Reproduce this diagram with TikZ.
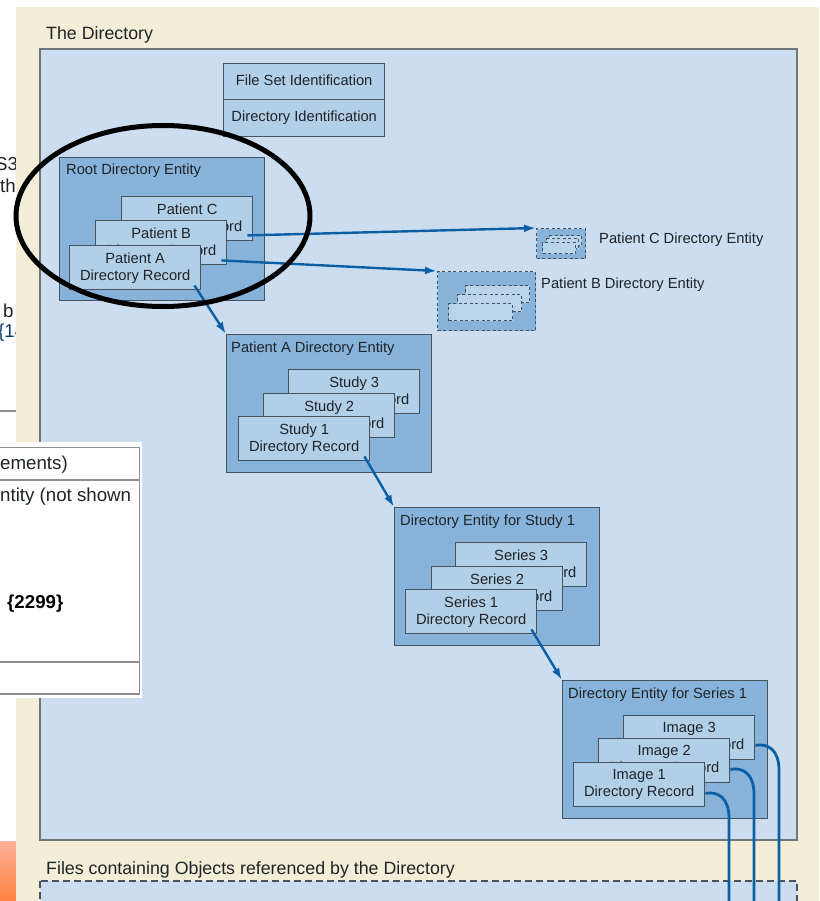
\documentclass[tikz,border=0pt]{standalone}
\usepackage{fontspec}
\setmainfont{Liberation Sans}
\usetikzlibrary{arrows.meta,calc,shapes.geometric}
\definecolor{beige}{HTML}{F4EDD7}
\definecolor{pale}{HTML}{CCDDF0}
\definecolor{mid}{HTML}{87B2D9}
\definecolor{recfill}{HTML}{B2CFE8}
\definecolor{ghostfill}{HTML}{BAD4EC}
\definecolor{edge}{HTML}{46535F}
\definecolor{outeredge}{HTML}{70777A}
\definecolor{flow}{HTML}{0B5FA5}
\definecolor{ink}{HTML}{1E2428}
\definecolor{rule}{HTML}{8E8E8E}
\tikzset{
  label/.style={anchor=west,inner sep=0pt,text=ink,font=\fontsize{14.7}{17}\selectfont},
  title/.style={label,font=\fontsize{17.8}{20}\selectfont},
  rec/.style={draw=edge,line width=1.4pt,fill=recfill,anchor=north west,inner sep=0pt,
    minimum width=131pt,minimum height=44pt,align=center,text=ink,
    font=\fontsize{14.7}{17}\selectfont},
  idbox/.style={rec,minimum width=161pt},
  entity/.style={draw=edge,line width=1.4pt,fill=mid,anchor=north west,inner sep=0pt,
    minimum width=205pt,minimum height=138pt},
  ghost/.style={draw=edge,line width=1.3pt,dash pattern=on 3pt off 2.5pt,anchor=north west,inner sep=0pt},
  flowline/.style={draw=flow,line width=2.8pt},
  flowarrow/.style={draw=flow,line width=2.4pt,-{Latex[length=12pt,width=8pt]}},
  clipped/.style={anchor=west,inner sep=0pt,font=\fontsize{18.7}{22}\selectfont},
  pagerule/.style={draw=rule,line width=1.6pt}
}
\begin{document}
\begin{tikzpicture}[x=1pt,y=-1pt]
\path[use as bounding box,clip] (0,0) rectangle (819,901);
\fill[white] (0,0) rectangle (819,901);
% page fragments at the left
\node[clipped,text=ink] (fa) at (-5,164) {S3};
\node[clipped,text=ink] (fb) at (0,186) {th};
\node[clipped,text=ink] (fc) at (3,311) {b};
\node[clipped,text=flow!70!black] (fd) at (-2,333) {\{14};
\draw[pagerule] (0,411) -- (16,411);
\shade[top color=orange!45!red!40!white,bottom color=orange!70!red!75!white] (0,841) rectangle (16,901);
% backgrounds
\fill[beige] (16,7) rectangle (819,901);
\node[title] (dirtitle) at (46,35) {The Directory};
\draw[draw=outeredge,line width=2pt,fill=pale] (40,49) rectangle (797,840);
\node[title] (filestitle) at (46,870) {Files containing Objects referenced by the Directory};
\draw[draw=edge,line width=1.4pt,dash pattern=on 7pt off 4pt,fill=pale] (40,881) rectangle (797,920);
% identification
\node[idbox,minimum height=36pt] (fileset) at (223,63) {\raisebox{4pt}{File Set Identification}};
\node[idbox,minimum height=37pt] (dirid) at (223,99) {Directory Identification};
% root
\node[entity,minimum height=143pt] (root) at (59,157) {};
\node[label] (roott) at (66,171) {Root Directory Entity};
\node[rec] (pc) at (121,196) {Patient C\\Directory Record};
\node[rec] (pb) at (95,220) {Patient B\\Directory Record};
\node[rec] (pa) at (69,245) {Patient A\\Directory Record};
% patient A
\node[entity] (ea) at (226,334) {};
\node[label] (eat) at (231,349) {Patient A Directory Entity};
\node[rec] (s3) at (288,369) {Study 3\\Directory Record};
\node[rec] (s2) at (263,393) {Study 2\\Directory Record};
\node[rec] (s1) at (238,416) {Study 1\\Directory Record};
% study 1
\node[entity] (es) at (394,507) {};
\node[label] (est) at (400,522) {Directory Entity for Study 1};
\node[rec] (r3) at (455,542) {Series 3\\Directory Record};
\node[rec] (r2) at (431,566) {Series 2\\Directory Record};
\node[rec] (r1) at (405,589) {Series 1\\Directory Record};
% series 1
\node[entity] (er) at (562,680) {};
\node[label] (ert) at (568,695) {Directory Entity for Series 1};
\node[rec] (i3) at (623,715) {Image 3\\Directory Record};
\node[rec] (i2) at (598,738) {Image 2\\Directory Record};
\node[rec] (i1) at (573,762) {Image 1\\Directory Record};
% ghost entities
\node[ghost,fill=mid,minimum width=49pt,minimum height=30pt] (gc) at (536,228) {};
\node[ghost,fill=ghostfill,minimum width=32pt,minimum height=10pt] (gc3) at (549,235) {};
\node[ghost,fill=ghostfill,minimum width=32pt,minimum height=10pt] (gc2) at (546,238) {};
\node[ghost,fill=ghostfill,minimum width=33pt,minimum height=11pt] (gc1) at (542,242) {};
\node[label] (gct) at (599,240) {Patient C Directory Entity};
\node[ghost,fill=mid,minimum width=98pt,minimum height=59pt] (gb) at (437,271) {};
\node[ghost,fill=ghostfill,minimum width=64pt,minimum height=17pt] (gb3) at (465,285) {};
\node[ghost,fill=ghostfill,minimum width=64pt,minimum height=17pt] (gb2) at (457,294) {};
\node[ghost,fill=ghostfill,minimum width=64pt,minimum height=17pt] (gb1) at (448,303) {};
\node[label] (gbt) at (541,285) {Patient B Directory Entity};
% connectors
\draw[flowarrow] ($(pc.south east)+(-6,-6)$) -- (gc.north west);
\draw[flowarrow] ($(pb.south east)+(-6,-5)$) -- (gb.north west);
\draw[flowarrow] ($(pa.south east)+(-7,-5)$) -- (ea.north west);
\draw[flowarrow] ($(s1.south east)+(-6,-5)$) -- (es.north west);
\draw[flowarrow] ($(r1.south east)+(-6,-5)$) -- (er.north west);
\coordinate (d1) at (729,901);
\coordinate (d2) at (754,901);
\coordinate (d3) at (779,901);
\draw[flowline] ($(i1.south east)+(0,-14)$) .. controls (718,791) and (729,798) .. (729,818) -- (d1);
\draw[flowline] ($(i2.south east)+(0,-14)$) .. controls (743,767) and (754,774) .. (754,794) -- (d2);
\draw[flowline] ($(i3.south east)+(0,-15)$) .. controls (768,743) and (779,750) .. (779,770) -- (d3);
% black ellipse
\node[draw=black,line width=5pt,ellipse,minimum width=294pt,minimum height=181pt,inner sep=0pt] (ring) at (163,216) {};
% overlaid table
\fill[white] (0,442) rectangle (142,698);
\draw[pagerule] (0,447.5) -- (139.5,447.5) -- (139.5,694) -- (0,694);
\draw[pagerule] (0,480) -- (139.5,480);
\draw[pagerule] (0,662) -- (139.5,662);
\node[clipped,text=ink] (ta) at (0,465) {ements)};
\node[clipped,text=ink] (tb) at (0,497) {ntity (not shown};
\node[clipped,text=black,font=\fontsize{18.7}{22}\bfseries\selectfont] (tc) at (7,604) {\{2299\}};
\end{tikzpicture}
\end{document}
